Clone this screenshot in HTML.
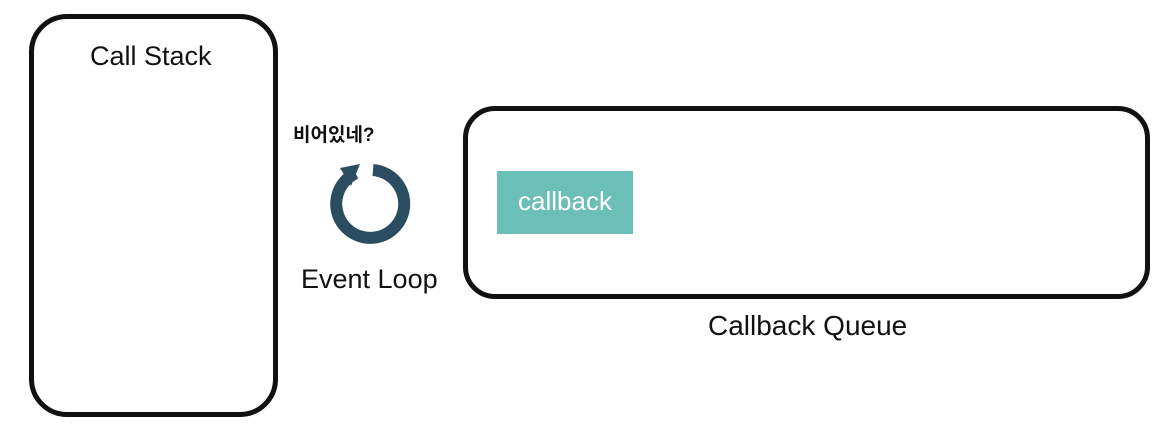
<!DOCTYPE html>
<html><head><meta charset="utf-8"><style>
body{margin:0;width:1162px;height:431px;background:#fff;position:relative;overflow:hidden;font-family:"Liberation Sans","Noto Sans CJK KR",sans-serif;color:#111}
.box{position:absolute;border:5px solid #111;box-sizing:border-box}
.t{position:absolute;font-size:27px;white-space:nowrap}
</style></head><body>
<div class="box" style="left:29px;top:14px;width:249px;height:403px;border-radius:38px"></div>
<div class="t" style="left:90px;top:41px">Call Stack</div>
<div class="box" style="left:463px;top:106px;width:687px;height:193px;border-radius:32px"></div>
<div style="position:absolute;left:497px;top:171px;width:136px;height:63px;background:#6bbfb8;color:#fff;font-size:26px;text-align:center;line-height:60px">callback</div>
<div class="t" style="left:708px;top:310px;font-size:28px">Callback Queue</div>
<div class="t" style="left:301px;top:264px">Event Loop</div>
<div class="t" style="left:293px;top:120px;font-size:19px;font-weight:bold">비어있네?</div>
<svg style="position:absolute;left:320px;top:154px" width="100" height="100">
<path d="M 53 16 A 34 34 0 1 1 35.6 19.2" fill="none" stroke="#2a4d62" stroke-width="12"/>
<polygon points="20,14 40,10 31,32" fill="#2a4d62"/>
</svg>
</body></html>
